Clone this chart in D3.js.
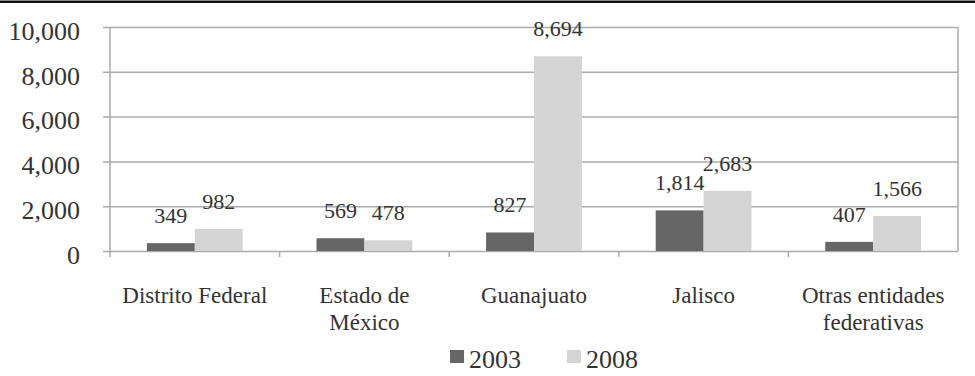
<!DOCTYPE html>
<html>
<head>
<meta charset="utf-8">
<script src="https://cdn.jsdelivr.net/npm/d3@7"></script>
<style>
  html, body { margin: 0; padding: 0; background: #fff; }
  svg { display: block; }
</style>
</head>
<body>
<svg id="chart" width="975" height="376"></svg>
<script>
// Entidades federativas and their values for 2003 and 2008
const categories = [
  ["Distrito Federal"],
  ["Estado de", "México"],
  ["Guanajuato"],
  ["Jalisco"],
  ["Otras entidades", "federativas"]
];
const years = ["2003", "2008"];
const values2003 = [349, 569, 827, 1814, 407];
const values2008 = [982, 478, 8694, 2683, 1566];
const yTicks = [0, 2000, 4000, 6000, 8000, 10000];

const colors = { "2003": "#666666", "2008": "#d4d4d4" };
const gridColor = "#ababab";
const FONT = "'Liberation Serif'";
const TEXT = "#333333";

const W = 975, H = 376;
const margin = { left: 110, right: 17, top: 27, bottom: 125 };
const plotW = W - margin.left - margin.right;
const plotH = H - margin.top - margin.bottom;

const svg = d3.select("#chart");

// black rule across the top
svg.append("rect").attr("x", 0).attr("y", 0.5).attr("width", W).attr("height", 2.5).attr("fill", "#111");

const g = svg.append("g").attr("transform", `translate(${margin.left},${margin.top})`);

const x = d3.scaleBand().domain(d3.range(categories.length)).range([0, plotW]).paddingInner(0).paddingOuter(0);
const xInner = d3.scaleBand().domain(years).range([0, x.bandwidth()]).paddingInner(0).paddingOuter(0.77);
const y = d3.scaleLinear().domain([0, 10000]).range([plotH, 0]);

// horizontal gridlines with left tick stubs
const yAxis = d3.axisLeft(y).tickValues(yTicks).tickSize(-plotW).tickPadding(0).tickFormat(d3.format(","));
const yg = g.append("g").call(yAxis).attr("font-family", null).attr("font-size", null);
yg.select(".domain").remove();
yg.selectAll(".tick line").attr("x1", -7).attr("stroke", gridColor).attr("stroke-width", 1.5);
yg.selectAll(".tick text")
  .attr("x", -30).attr("dy", "0.32em").attr("y", 4)
  .style("font-family", FONT).style("font-size", "26px").style("fill", TEXT);

// right frame line
g.append("line").attr("x1", plotW).attr("x2", plotW).attr("y1", 0).attr("y2", plotH)
  .attr("stroke", gridColor).attr("stroke-width", 1.5);

// left axis line
g.append("line").attr("x1", 0).attr("x2", 0).attr("y1", 0).attr("y2", plotH + 6)
  .attr("stroke", gridColor).attr("stroke-width", 1.5);

// category boundary ticks
const boundaries = d3.range(1, categories.length).map(i => x(i));
g.selectAll(".ctick").data(boundaries).join("line")
  .attr("x1", d => d).attr("x2", d => d).attr("y1", plotH).attr("y2", plotH + 6)
  .attr("stroke", gridColor).attr("stroke-width", 1.5);

// bars
const rows = categories.map((c, i) => ({ i, v: { "2003": values2003[i], "2008": values2008[i] } }));
const groups = g.selectAll(".grp").data(rows).join("g").attr("transform", d => `translate(${x(d.i)},0)`);
groups.selectAll("rect").data(d => years.map(yr => ({ yr, v: d.v[yr] }))).join("rect")
  .attr("x", d => xInner(d.yr)).attr("width", xInner.bandwidth())
  .attr("y", d => y(d.v)).attr("height", d => plotH - y(d.v))
  .attr("fill", d => colors[d.yr]);

// value labels
groups.selectAll(".val").data(d => years.map(yr => ({ yr, v: d.v[yr] }))).join("text")
  .attr("x", d => xInner(d.yr) + xInner.bandwidth() / 2)
  .attr("y", d => y(d.v) - 20)
  .attr("text-anchor", "middle")
  .style("font-family", FONT).style("font-size", "22px").style("fill", TEXT)
  .text(d => d3.format(",")(d.v));

// category labels
const cl = g.selectAll(".cat").data(categories).join("text")
  .attr("text-anchor", "middle")
  .attr("transform", (d, i) => `translate(${x(i) + x.bandwidth() / 2},${plotH + 52})`)
  .style("font-family", FONT).style("font-size", "23px").style("fill", TEXT);
cl.selectAll("tspan").data(d => d).join("tspan")
  .attr("x", 0).attr("dy", (d, j) => j === 0 ? 0 : 27).text(d => d);

// legend
const legend = svg.append("g").attr("transform", "translate(450,350)");
const items = legend.selectAll("g").data(years).join("g").attr("transform", (d, i) => `translate(${i * 117},0)`);
items.append("rect").attr("width", 14).attr("height", 13).attr("fill", d => colors[d]);
items.append("text").attr("x", 19).attr("y", 18)
  .style("font-family", FONT).style("font-size", "26px").style("fill", TEXT)
  .text(d => d);
</script>
</body>
</html>
